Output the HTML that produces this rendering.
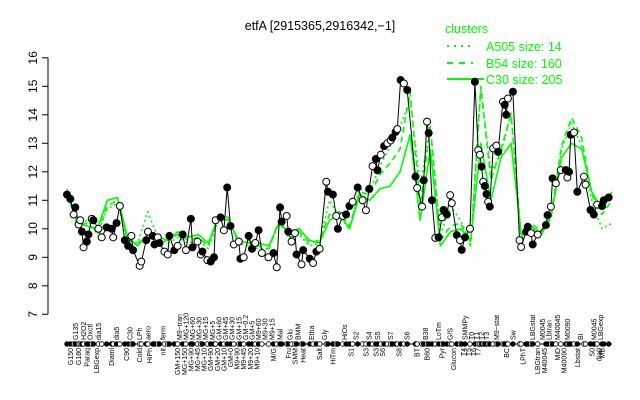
<!DOCTYPE html>
<html><head><meta charset="utf-8"><style>
body{margin:0;background:#fff}
svg{display:block;font-family:"Liberation Sans",sans-serif}
</style></head><body>
<svg id="chart" width="640" height="400" viewBox="0 0 640 400" xmlns="http://www.w3.org/2000/svg">
<text x="320" y="30" font-size="12.5" text-anchor="middle">etfA [2915365,2916342,−1]</text>
<g id="legend" fill="#00ff00" font-size="12.5">
<text x="445" y="33">clusters</text>
<line x1="447" y1="46" x2="473" y2="46" stroke="#00ff00" stroke-width="2" stroke-dasharray="2,5"/>
<text x="486" y="51">A505 size: 14</text>
<line x1="447" y1="63" x2="473" y2="63" stroke="#00ff00" stroke-width="2" stroke-dasharray="6,6"/>
<text x="486" y="68">B54 size: 160</text>
<line x1="447" y1="79" x2="484" y2="79" stroke="#00ff00" stroke-width="2"/>
<text x="486" y="84">C30 size: 205</text>
</g>
<g id="yaxis"></g>
<g id="series"></g>
<g id="xaxis"></g>
</svg>
<script>
const yTicks=[7,8,9,10,11,12,13,14,15,16];
const expression=[11.2,11.05,10.5,10.75,10.15,10.3,9.9,9.35,9.55,9.8,10.35,10.3,10.0,9.7,10.05,10.0,9.7,10.2,10.8,9.6,9.4,9.75,9.25,8.7,8.85,9.6,9.9,9.75,9.45,9.7,9.5,9.2,9.1,9.75,9.25,9.4,9.8,9.25,10.35,9.35,9.55,9.1,9.2,8.9,8.85,9.0,10.3,10.4,9.95,11.45,10.1,9.45,9.55,8.95,9.0,9.75,9.3,9.5,9.95,9.15,9.0,9.15,8.65,10.75,10.25,10.45,9.9,9.55,9.85,9.1,8.75,9.25,8.95,8.8,9.2,9.3,11.65,11.3,11.2,10.45,10.0,10.45,10.5,10.8,10.95,11.45,11.0,10.65,11.4,12.2,12.45,12.05,12.6,12.9,13.0,
13.1,13.2,13.4,13.5,15.22,15.1,14.87,11.83,11.43,10.78,11.7,13.76,13.36,11.0,9.68,9.7,10.4,10.66,10.5,11.18,10.9,9.78,
9.6,9.26,9.7,10.0,15.16,12.76,12.6,12.18,11.65,11.5,11.22,10.95,10.78,12.82,12.92,12.7,14.46,14.35,14.0,14.57,14.81,9.6,9.36,9.9,10.07,9.85,9.45,9.8,10.13,10.48,10.78,11.77,11.6,12.06,12.06,11.8,12.0,13.3,13.38,11.3,11.83,11.55,10.66,10.5,10.85,10.8,11.0,11.1];
const condIndex=[0,2,4,5,7,8,9,10,12,13,15,16,19,21,24,27,28,30,32,35,37,39,40,44,45,48,49,52,53,55,56,59,61,62,65,67,70,72,75,76,79,81,82,85,87,89,90,93,95,97,99,101,104,105,107,110,112,114,116,118,122,125,127,129,130,133,134,136,138,139,142,143,147,149,151,153,157,158,161,163,164,167,169,171,173,176,179,181,183,185,187,188,190,192,194,
196,197,199,200,202,204,206,211,212,215,216,218,219,221,223,225,227,228,230,232,233,236,
238,239,241,244,247,249,250,251,252,253,254,255,256,258,260,261,264,265,266,267,270,274,275,278,279,281,282,285,290,291,293,294,296,299,302,303,304,305,307,309,313,314,317,319,321,324,325,328,330];
const filledPattern="1101001011010011010110100101101001101011001011010110010110100101101001011010011010110100101101001101011001011010110010110100101101001011010011010110100101101001101";
const c30=[11.4,10.2,10.1,10.0,11.0,11.1,9.7,9.4,9.8,9.7,9.6,9.9,9.7,9.8,9.5,10.4,10.3,9.6,9.5,9.5,9.4,10.2,9.9,10.0,9.6,9.5,10.3,10.5,10.0,11.2,11.0,11.4,11.5,12.0,13.3,10.3,12.8,9.4,9.9,10.0,9.6,13.0,11.0,12.5,13.0,9.8,10.1,9.8,10.5,12.5,13.0,12.8,11.3,10.7,11.3];
const b54=[11.3,10.1,10.2,9.9,10.8,11.0,9.6,9.5,9.7,9.6,9.6,9.8,9.6,9.7,9.4,10.5,10.4,9.5,9.6,9.4,9.3,10.3,9.8,9.9,9.5,9.6,10.5,10.6,10.1,11.3,11.2,11.9,12.3,12.8,14.8,10.8,13.6,9.6,10.1,10.2,9.4,15.0,11.7,12.8,14.0,9.7,10.2,9.9,10.6,12.9,13.9,13.2,11.2,10.5,11.0];
const a505=[11.3,10.1,10.3,9.8,10.7,10.9,9.6,9.5,10.6,9.7,9.5,9.7,9.5,9.6,9.3,10.3,10.3,9.5,9.4,9.3,9.3,10.2,9.7,9.8,9.4,9.5,11.0,10.4,10.0,11.4,11.3,12.2,12.9,13.6,14.5,11.5,13.6,9.8,10.8,10.3,9.5,14.9,12.0,12.6,14.1,9.6,10.0,9.8,10.4,12.8,13.7,12.9,11.0,10.0,10.2];
const topLabels=["G135","H2O2","Oxctl","dia15","dia5","C30","LPh","aero","ferm","M9−tran","MG+120","MG+60","MG+30","MG+15","MG+5","GM+60","GM+45","GM+30","GM+15","GM−0.2","GM+5","M9+60","M9+30","M9+15","Mal","Glu","BMM","Etha","Gly","HiOs","S2","S4","S5","S7","S6","B38","LoTm","G/S","SMMPy","T0","T1","T2","T3","M9−stat","Sw","LBGstat","M0045","Lbtran","M40045","M0090","BI","M0045","LBGexp"];
const topIdx=[5,10,14,19,30,38,44,49,58,68,72,76,80,84,88,92,96,100,104,108,112,116,120,124,129,135,140,148,156,168,175,183,188,196,206,217,225,232,241,245,248,251,254,260,270,282,288,292,297,303,311,319,323];
const botLabels=["G150","G180","Paraq","LBGexp","Diaml","C90","Cold","HiPh","nit","GM+150","MG+150","MG+90","MG+45","MG+10","GM+90","GM+20","GM+10","GM+0","M9+90","M9+45","M9+20","M9+10","M/G","Fru","SMM","Heat","Salt","HiTm","S1","S3","S3","S6","S8","BT","B60","Pyr","Glucon","T4","T5","T6","T7","BC","LPhT","LBGtran","M40045","MiD","M40090","Lbstat","S0","dia0","MB"];
const botIdx=[2,7,12,18,27,36,44,50,58,67,71,75,79,83,87,91,95,99,103,107,111,115,125,134,138,143,153,161,172,181,187,191,201,212,218,227,234,240,243,246,249,266,276,285,289,297,301,309,318,322,324];
const NS="http://www.w3.org/2000/svg";
function mk(tag,attrs,parent){const e=document.createElementNS(NS,tag);for(const k in attrs)e.setAttribute(k,attrs[k]);parent.appendChild(e);return e;}
const X0=67,X1=612,Y0=314.3,PER=28.5,NCOND=330;
const yS=v=>Y0-(v-7)*PER;
const xI=(i,n)=>X0+i*(X1-X0)/(n-1);
const xCat=i=>X0+i*(X1-X0)/NCOND;
const ya=document.getElementById('yaxis');
const axl=mk('line',{x1:48,y1:yS(16),x2:48,y2:yS(7),stroke:'#000'},ya);


yTicks.forEach(t=>{
 const tk=mk('line',{x1:42,y1:yS(t),x2:48,y2:yS(t),stroke:'#000'},ya);
 
 
 const tx=mk('text',{x:0,y:0,'font-size':12,'text-anchor':'middle',transform:`translate(37,${yS(t)}) rotate(-90)`},ya);
 tx.textContent=t;
 
 
});
const sg=document.getElementById('series');
function line(arr,name,dash,w){
 const p=arr.map((v,i)=>(i?'L':'M')+xI(i,arr.length).toFixed(1)+','+yS(v).toFixed(1)).join('');
 const e=mk('path',{d:p,fill:'none',stroke:'#00ff00','stroke-width':w,'stroke-dasharray':dash,'stroke-linejoin':'round'},sg);
 
 
}
line(a505,'series-a505','2,3',1.6);
line(b54,'series-b54','6,4',1.6);
line(c30,'series-c30','none',1.6);
const bp=expression.map((v,i)=>(i?'L':'M')+xCat(condIndex[i]).toFixed(1)+','+yS(v).toFixed(1)).join('');
const bl=mk('path',{d:bp,fill:'none',stroke:'#000','stroke-width':1},sg);


expression.forEach((v,i)=>{
 const f=filledPattern[i%filledPattern.length]==='1';
 const c=mk('circle',{cx:xCat(condIndex[i]),cy:yS(v),r:3.5,fill:f?'#000':'#fff',stroke:'#000','stroke-width':1},sg);
 
 
});
const xa=document.getElementById('xaxis');
const xl=mk('line',{x1:X0,y1:344,x2:X1,y2:344,stroke:'#000'},xa);


expression.forEach((v,i)=>{
 const f=filledPattern[i%filledPattern.length]==='1';
 const c=mk('circle',{cx:xCat(condIndex[i]),cy:344,r:2.3,fill:f?'#000':'#fff',stroke:'#000','stroke-width':0.8},xa);
 
 
});
topLabels.forEach((s,i)=>{
 const t=mk('text',{x:0,y:0,'font-size':7,'text-anchor':'start',transform:`translate(${xCat(topIdx[i])+2.5},340) rotate(-90)`},xa);
 t.textContent=s;
 
 
});
botLabels.forEach((s,i)=>{
 const t=mk('text',{x:0,y:0,'font-size':7,'text-anchor':'end',transform:`translate(${xCat(botIdx[i])+2.5},348) rotate(-90)`},xa);
 t.textContent=s;
 
 
});
</script>
</body></html>
